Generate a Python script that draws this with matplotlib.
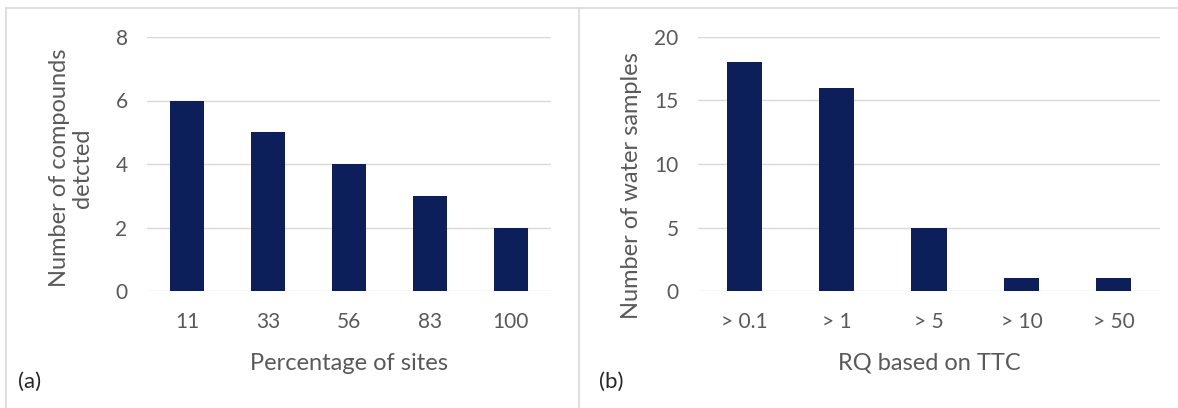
import matplotlib
matplotlib.use("Agg")
import matplotlib.pyplot as plt
from matplotlib.lines import Line2D

# Data
sites_labels = ["11", "33", "56", "83", "100"]
compounds_detected = [6, 5, 4, 3, 2]
rq_labels = ["> 0.1", "> 1", "> 5", "> 10", "> 50"]
water_samples = [18, 16, 5, 1, 1]

W, H = 1178, 408
plt.rcParams['font.family'] = ['Lato', 'DejaVu Sans']
TXT = "#595959"
BAR = "#0c1f5b"
GRID = "#d9d9d9"
FS_TICK = 15
FS_LAB = 17

fig = plt.figure(figsize=(W / 100, H / 100), dpi=100)

def fx(px):
    return px / W

def fy(py):
    return 1 - py / H

# panel frames
for xs, ys in [([6, 6], [8, 408]), ([6, 1178], [8, 8]), ([579, 579], [8, 408])]:
    fig.add_artist(Line2D([fx(x) for x in xs], [fy(y) for y in ys], color=GRID, lw=1.2,
                          transform=fig.transFigure))

def setup(ax, ymax, step):
    ax.set_ylim(0, ymax)
    ax.set_yticks(range(0, ymax + 1, step))
    ax.set_xlim(-0.5, 4.5)
    for s in ax.spines.values():
        s.set_visible(False)
    ax.grid(axis='y', color=GRID, lw=1)
    ax.set_axisbelow(True)
    ax.tick_params(length=0, labelsize=FS_TICK, labelcolor=TXT)
    ax.tick_params(axis='x', pad=15)
    ax.tick_params(axis='y', pad=14)

# Left panel
ax1 = fig.add_axes([fx(147), fy(291), fx(551) - fx(147), fy(37) - fy(291)])
ax1.bar(range(len(sites_labels)), compounds_detected, width=0.42, color=BAR)
setup(ax1, 8, 2)
ax1.set_xticks(range(len(sites_labels)))
ax1.set_xticklabels(sites_labels)
fig.text(fx(349), fy(363), "Percentage of sites", ha='center', va='center', fontsize=FS_LAB, color=TXT)
fig.text(fx(71), fy(168), "Number of compounds\ndetcted", ha='center', va='center', rotation=90,
         fontsize=FS_LAB, color=TXT, linespacing=1.1)
fig.text(fx(18), fy(382), "(a)", ha='left', va='center', fontsize=16, color="#262626")

# Right panel
ax2 = fig.add_axes([fx(698), fy(291), fx(1160) - fx(698), fy(37) - fy(291)])
ax2.bar(range(len(rq_labels)), water_samples, width=0.38, color=BAR)
setup(ax2, 20, 5)
ax2.set_xticks(range(len(rq_labels)))
ax2.set_xticklabels(rq_labels)
fig.text(fx(929), fy(363), "RQ based on TTC", ha='center', va='center', fontsize=FS_LAB, color=TXT)
fig.text(fx(632), fy(186), "Number of water samples", ha='center', va='center', rotation=90,
         fontsize=FS_LAB, color=TXT)
fig.text(fx(599), fy(382), "(b)", ha='left', va='center', fontsize=16, color="#262626")

fig.savefig("out.png", dpi=100, facecolor="white")
